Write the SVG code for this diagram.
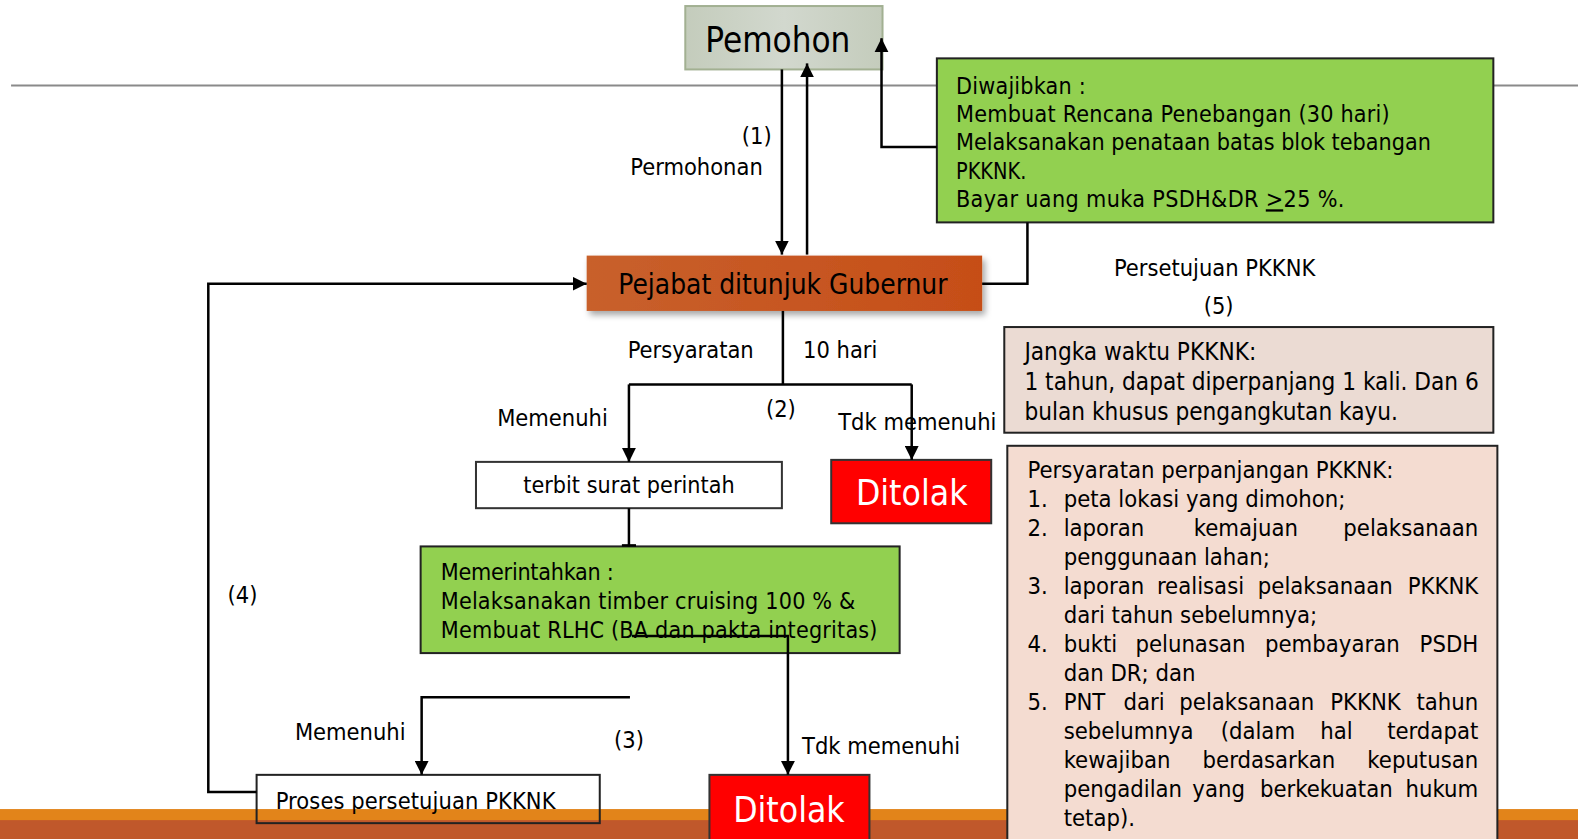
<svg xmlns="http://www.w3.org/2000/svg" width="1578" height="839" viewBox="0 0 1578 839">
<style>
text{font-family:"DejaVu Sans Condensed","DejaVu Sans",sans-serif;font-stretch:condensed;fill:#000}
.t{font-size:23.3px}
.g{font-size:23px}
.b{font-size:23.5px}
.j{font-size:24px}
.c{stroke:#000;stroke-width:2.5;fill:none}
.box{stroke:#222;stroke-width:2}
.red{fill:#ff0000;stroke:#333;stroke-width:2}
.wt{fill:#fff;font-size:35px;text-anchor:middle}
.m{text-anchor:middle}
.e{text-anchor:end}
</style>
<defs>
<marker id="ah" viewBox="0 0 12 12" refX="12" refY="6" markerWidth="14" markerHeight="14" markerUnits="userSpaceOnUse" orient="auto"><path d="M0,0 L12,6 L0,12 z" fill="#000"/></marker>
<linearGradient id="gp" x1="0" y1="0" x2="1" y2="0"><stop offset="0" stop-color="#c4ccbc"/><stop offset="0.5" stop-color="#d2d8ce"/><stop offset="1" stop-color="#c4ccbc"/></linearGradient>
<linearGradient id="go" x1="0" y1="0" x2="1" y2="0"><stop offset="0" stop-color="#c8602c"/><stop offset="1" stop-color="#c64e18"/></linearGradient>
<filter id="sh" x="-5%" y="-20%" width="115%" height="150%"><feDropShadow dx="3" dy="4" stdDeviation="3" flood-color="#000" flood-opacity="0.35"/></filter>
</defs>
<rect x="0" y="0" width="1578" height="839" fill="#fff"/>
<g transform="scale(1.0063)">
<g id="band">
<rect x="0" y="804" width="1578" height="12" fill="#e2841a"/>
<rect x="0" y="815" width="1578" height="30" fill="#c0582b"/>
</g>
<line x1="11" y1="85" x2="1578" y2="85" stroke="#8a8a8a" stroke-width="2"/>
<g id="pemohon">
<rect x="681" y="6" width="196" height="63" fill="url(#gp)" stroke="#a2b092" stroke-width="2"/>
<text x="773" y="52" class="m" style="font-size:34.5px">Pemohon</text>
</g>
<g id="pejabat">
<rect x="583" y="254" width="393" height="55" fill="url(#go)" filter="url(#sh)"/>
<text x="778" y="292" class="m" style="font-size:27.7px">Pejabat ditunjuk Gubernur</text>
</g>
<g id="diwajibkan">
<rect x="931" y="58" width="553" height="163" fill="#92d050" class="box"/>
<text x="950" y="93" class="g" textLength="129" lengthAdjust="spacing">Diwajibkan :</text>
<text x="950" y="121" class="g" textLength="431" lengthAdjust="spacing">Membuat Rencana Penebangan (30 hari)</text>
<text x="950" y="149" class="g" textLength="472" lengthAdjust="spacing">Melaksanakan penataan batas blok tebangan</text>
<text x="950" y="178" class="g" textLength="70" lengthAdjust="spacingAndGlyphs">PKKNK.</text>
<text x="950" y="206" class="g" textLength="386" lengthAdjust="spacing">Bayar uang muka PSDH&amp;DR <tspan text-decoration="underline">&gt;</tspan>25 %.</text>
</g>
<g id="jangka">
<rect x="998" y="325" width="486" height="105" fill="#ebdbd3" class="box"/>
<text x="1018" y="358" class="j">Jangka waktu PKKNK:</text>
<text x="1018" y="388" class="j">1 tahun, dapat diperpanjang 1 kali. Dan 6</text>
<text x="1018" y="417" class="j">bulan khusus pengangkutan kayu.</text>
</g>
<g id="persyaratan-perpanjangan">
<rect x="1001" y="443" width="487" height="410" fill="#f4dcd1" class="box"/>
<text x="1021" y="475" class="b">Persyaratan perpanjangan PKKNK:</text>
<text x="1021" y="503.8" class="b">1.</text><text x="1057" y="503.8" class="b">peta lokasi yang dimohon;</text>
<text x="1021" y="532.6" class="b">2.</text><text x="1057" y="532.6" class="b">laporan</text><text x="1238" y="532.6" class="b m">kemajuan</text><text x="1469" y="532.6" class="b e">pelaksanaan</text>
<text x="1057" y="561.4" class="b">penggunaan lahan;</text>
<text x="1021" y="590.2" class="b">3.</text><text x="1057" y="590.2" class="b">laporan</text><text x="1193" y="590.2" class="b m">realisasi</text><text x="1317" y="590.2" class="b m">pelaksanaan</text><text x="1469" y="590.2" class="b e">PKKNK</text>
<text x="1057" y="619" class="b">dari tahun sebelumnya;</text>
<text x="1021" y="647.8" class="b">4.</text><text x="1057" y="647.8" class="b">bukti</text><text x="1183" y="647.8" class="b m">pelunasan</text><text x="1324" y="647.8" class="b m">pembayaran</text><text x="1469" y="647.8" class="b e">PSDH</text>
<text x="1057" y="676.6" class="b">dan DR; dan</text>
<text x="1021" y="705.4" class="b">5.</text><text x="1057" y="705.4" class="b">PNT</text><text x="1137" y="705.4" class="b m">dari</text><text x="1239" y="705.4" class="b m">pelaksanaan</text><text x="1357" y="705.4" class="b m">PKKNK</text><text x="1469" y="705.4" class="b e">tahun</text>
<text x="1057" y="734.2" class="b">sebelumnya</text><text x="1250" y="734.2" class="b m">(dalam</text><text x="1328" y="734.2" class="b m">hal</text><text x="1469" y="734.2" class="b e">terdapat</text>
<text x="1057" y="763" class="b">kewajiban</text><text x="1261" y="763" class="b m">berdasarkan</text><text x="1469" y="763" class="b e">keputusan</text>
<text x="1057" y="791.8" class="b">pengadilan</text><text x="1211" y="791.8" class="b m">yang</text><text x="1318" y="791.8" class="b m">berkekuatan</text><text x="1469" y="791.8" class="b e">hukum</text>
<text x="1057" y="820.6" class="b">tetap).</text>
</g>
<g id="terbit">
<rect x="473" y="459" width="304" height="46" fill="#fff" stroke="#333" stroke-width="2"/>
<text x="625" y="490" class="g m" textLength="210" lengthAdjust="spacing">terbit surat perintah</text>
</g>
<g id="ditolak1">
<rect x="826" y="457" width="159" height="63" class="red"/>
<text x="906" y="502" class="wt">Ditolak</text>
</g>
<g id="memerintahkan">
<rect x="418" y="543" width="476" height="106" fill="#92d050" class="box"/>
<text x="438" y="576" class="g" textLength="172" lengthAdjust="spacing">Memerintahkan :</text>
<text x="438" y="605" class="g" textLength="412" lengthAdjust="spacing">Melaksanakan timber cruising 100 % &amp;</text>
<text x="438" y="634" class="g" textLength="434" lengthAdjust="spacing">Membuat RLHC (BA dan pakta integritas)</text>
</g>
<g id="proses">
<rect x="255" y="770" width="341" height="48" fill="none" stroke="#222" stroke-width="2"/>
<text x="274" y="804" class="t" textLength="278" lengthAdjust="spacing">Proses persetujuan PKKNK</text>
</g>
<g id="ditolak2">
<rect x="705" y="770" width="159" height="80" class="red"/>
<text x="784" y="817" class="wt">Ditolak</text>
</g>
<g id="connectors">
<path class="c" d="M777,69 V253" marker-end="url(#ah)"/>
<path class="c" d="M802,253 V63" marker-end="url(#ah)"/>
<path class="c" d="M931,146 H876 V38" marker-end="url(#ah)"/>
<path class="c" d="M976,282 H1021 V221"/>
<path class="c" d="M778,309 V382"/>
<path class="c" d="M625,382 H906"/>
<path class="c" d="M625,382 V459" marker-end="url(#ah)"/>
<path class="c" d="M906,382 V457" marker-end="url(#ah)"/>
<path class="c" d="M625,505 V543"/>
<path class="c" d="M618,542 H632"/>
<path class="c" d="M628,632 H783 V770" marker-end="url(#ah)"/>
<path class="c" d="M626,693 H419 V770" marker-end="url(#ah)"/>
<path class="c" d="M255,787 H207 V282 H583" marker-end="url(#ah)"/>
</g>
<g id="labels">
<text x="752" y="143" class="t m">(1)</text>
<text x="758" y="174" class="t e">Permohonan</text>
<text x="749" y="356" class="t e">Persyaratan</text>
<text x="798" y="356" class="t">10 hari</text>
<text x="776" y="414" class="t m">(2)</text>
<text x="604" y="423" class="t e">Memenuhi</text>
<text x="833" y="427" class="t">Tdk memenuhi</text>
<text x="1207" y="274" class="t m">Persetujuan PKKNK</text>
<text x="1211" y="312" class="t m">(5)</text>
<text x="241" y="599" class="t m">(4)</text>
<text x="403" y="735" class="t e">Memenuhi</text>
<text x="625" y="743" class="t m">(3)</text>
<text x="797" y="749" class="t">Tdk memenuhi</text>
</g>
</g>
</svg>
